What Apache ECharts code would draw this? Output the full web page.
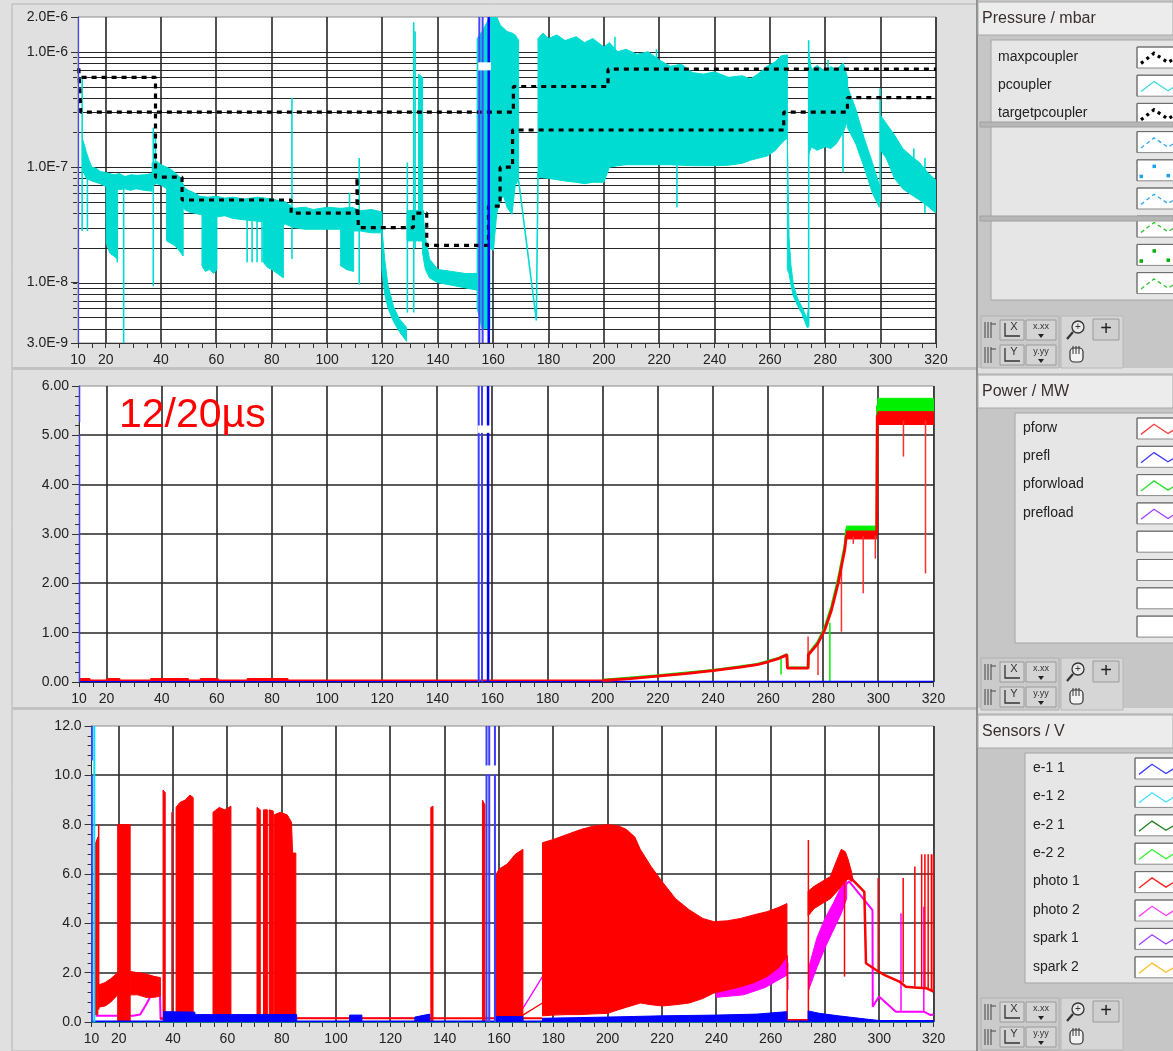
<!DOCTYPE html>
<html>
<head>
<meta charset="utf-8">
<title>Coupler conditioning</title>
<script src="https://cdn.jsdelivr.net/npm/echarts@6/dist/echarts.min.js"></script>
<style>
html, body { margin: 0; padding: 0; background: #e0e0e0; }
#chart { width: 1173px; height: 1051px; }
</style>
</head>
<body>
<div id="chart"></div>
<script>
// ---------------- axis ticks ----------------
const timeTickLabels = [10, 20, 40, 60, 80, 100, 120, 140, 160, 180, 200, 220, 240, 260, 280, 300, 320];
const timeGridLines = [20, 40, 60, 80, 100, 120, 140, 160, 180, 200, 220, 240, 260, 280, 300, 320];
const pressureGridLevels = [4e-9, 5e-9, 6e-9, 7e-9, 8e-9, 9e-9, 1e-8, 2e-8, 3e-8, 4e-8, 5e-8, 6e-8, 7e-8, 8e-8, 9e-8,
  1e-7, 2e-7, 3e-7, 4e-7, 5e-7, 6e-7, 7e-7, 8e-7, 9e-7, 1e-6];
const powerGridLevels = [1, 2, 3, 4, 5];
const sensorGridLevels = [2, 4, 6, 8, 10];

// ---------------- pressure (mbar) ----------------
// noisy pcoupler trace: envelopes as [t, low, high]
const pcouplerBands = [
  [[11.8, 9.5e-8, 1.7e-7], [12.5, 8.5e-8, 1.5e-7], [13, 8e-8, 1.35e-7], [14, 7.8e-8, 1.15e-7], [15, 7.6e-8, 1.0e-7], [16.5, 7.4e-8, 9.8e-8], [18, 7.2e-8, 9.2e-8], [20, 6.8e-8, 9e-8], [23, 6.5e-8, 8.6e-8], [25, 6.4e-8, 8.8e-8], [27, 6.5e-8, 8.3e-8], [29, 6.3e-8, 8.6e-8], [31, 6.5e-8, 8.5e-8], [34, 6.3e-8, 8.6e-8], [36.8, 6.2e-8, 8.8e-8]],
  [[36.8, 7e-8, 1.1e-7], [38.5, 7.2e-8, 1.12e-7], [40, 7e-8, 1.05e-7], [42, 6.5e-8, 1e-7], [43.5, 6.2e-8, 9.6e-8], [45, 6e-8, 9e-8], [47.3, 5e-8, 8e-8], [48.5, 4.3e-8, 6.6e-8], [50, 4.1e-8, 6.3e-8], [52, 4e-8, 6e-8], [54, 3.9e-8, 5.6e-8], [57, 3.8e-8, 5.5e-8], [60, 3.7e-8, 5.6e-8], [63, 3.8e-8, 5.4e-8], [66, 3.6e-8, 5.5e-8], [70, 3.5e-8, 5.3e-8], [75, 3.4e-8, 5.5e-8], [80, 3.3e-8, 5.3e-8], [85, 3.2e-8, 5e-8], [88, 3e-8, 4.4e-8], [92, 2.9e-8, 4.5e-8], [95, 2.9e-8, 4.3e-8], [100, 2.9e-8, 4.5e-8], [105, 2.9e-8, 4.4e-8], [109, 2.8e-8, 4.5e-8], [112, 2.8e-8, 4.2e-8], [116, 2.7e-8, 4.3e-8], [119.8, 2.7e-8, 4.1e-8]],
  [[20.2, 2.2e-8, 7e-8], [21.5, 1.8e-8, 7e-8], [23, 1.7e-8, 7e-8], [24.2, 1.6e-8, 7e-8]],
  [[42, 2.3e-8, 7e-8], [45, 2.1e-8, 7e-8], [46.5, 1.9e-8, 7e-8], [48, 1.7e-8, 6e-8]],
  [[54.8, 1.4e-8, 5e-8], [56, 1.25e-8, 5e-8], [57.5, 1.3e-8, 5e-8], [59, 1.2e-8, 5e-8], [60.2, 1.3e-8, 5e-8]],
  [[77, 1.5e-8, 5e-8], [78.5, 1.35e-8, 5e-8], [80, 1.3e-8, 5e-8], [82, 1.2e-8, 5e-8], [84.2, 1.1e-8, 5e-8]],
  [[104.9, 1.4e-8, 4e-8], [107, 1.3e-8, 4e-8], [109.6, 1.25e-8, 4e-8]],
  [[119.8, 1.3e-8, 3e-8], [120.8, 8e-9, 1.6e-8], [122, 6e-9, 9.5e-9], [124, 4.6e-9, 6.2e-9], [126, 3.8e-9, 4.9e-9], [128.7, 3.1e-9, 4.1e-9]],
  [[128.9, 2.3e-8, 4.2e-8], [132, 2.3e-8, 4.2e-8], [134.9, 2.3e-8, 4.2e-8]],
  [[133, 2.3e-8, 6.4e-7], [134.5, 2.3e-8, 6e-7]],
  [[134.5, 1.8e-8, 4.2e-8], [135.5, 1.3e-8, 2.5e-8], [137, 1.1e-8, 1.6e-8], [140, 1.0e-8, 1.3e-8], [145, 9.5e-9, 1.25e-8], [150, 9e-9, 1.2e-8], [154.2, 8.6e-9, 1.2e-8]],
  [[154.2, 6e-9, 1.3e-6], [156, 4e-9, 1.5e-6], [158.8, 4e-9, 2e-6]],
  [[158.8, 2e-8, 2e-6], [160.1, 1.9e-8, 2e-6], [161.3, 4e-8, 2e-6], [162.6, 5.2e-8, 1.7e-6], [163.8, 5.6e-8, 1.6e-6], [165, 4.5e-8, 1.5e-6], [166.8, 3.9e-8, 1.45e-6], [168, 7e-8, 1.4e-6], [169.2, 7.7e-8, 1.25e-6]],
  [[176.2, 8.2e-8, 1.3e-6], [178, 8.1e-8, 1.45e-6], [180, 8e-8, 1.3e-6], [183, 7.8e-8, 1.4e-6], [186, 7.6e-8, 1.25e-6], [190, 7.4e-8, 1.35e-6], [193, 7.2e-8, 1.2e-6], [196, 7.4e-8, 1.3e-6], [200, 7.4e-8, 1.1e-6], [202, 1e-7, 1.2e-6], [205, 1.03e-7, 1.0e-6], [208, 1.05e-7, 1.05e-6], [212, 1.05e-7, 9.5e-7], [216, 1.05e-7, 1.0e-6], [220, 1.05e-7, 8.5e-7], [224, 1.05e-7, 7.5e-7], [228, 1.04e-7, 7.8e-7], [232, 1.03e-7, 6.6e-7], [236, 1.03e-7, 6.4e-7], [240, 1.03e-7, 6.7e-7], [245, 1.04e-7, 6.0e-7], [250, 1.08e-7, 6.2e-7], [253, 1.15e-7, 5.8e-7], [256, 1.2e-7, 6.5e-7], [259, 1.25e-7, 7.5e-7], [262, 1.4e-7, 8.2e-7], [264, 1.6e-7, 9.2e-7], [266.3, 1.8e-7, 9.4e-7]],
  [[266.3, 1.3e-8, 1.8e-7], [266.9, 1.2e-8, 2.5e-8], [267.6, 9.5e-9, 1.4e-8], [268.5, 7.6e-9, 9.5e-9], [270, 6.3e-9, 7.3e-9], [271.5, 5.4e-9, 6.2e-9], [273.4, 4.1e-9, 4.9e-9], [273.9, 4.1e-9, 6e-9]],
  [[274, 1.3e-7, 1.0e-6], [275, 1.5e-7, 7e-7], [277, 1.4e-7, 7.6e-7], [280, 1.5e-7, 6.8e-7], [282, 1.45e-7, 7.4e-7], [284, 1.6e-7, 7e-7], [286.5, 2e-7, 8e-7], [288, 2.5e-7, 6e-7]],
  [[288, 2.2e-7, 5e-7], [291, 1.6e-7, 3.2e-7], [294, 1e-7, 1.8e-7], [297, 6e-8, 1.1e-7], [299.5, 4.5e-8, 7e-8]],
  [[300, 1.4e-7, 2.8e-7], [302, 1.2e-7, 2.4e-7], [305, 8e-8, 1.9e-7], [308, 6.5e-8, 1.45e-7], [311, 5.8e-8, 1.25e-7], [314, 5.2e-8, 1.1e-7], [317, 4.6e-8, 9e-8], [320, 4e-8, 7.7e-8]]
];
const pcouplerSpikes = [[11.5, 2.8e-8, 6.2e-7], [13.4, 2.8e-8, 8e-8], [24.2, 1.5e-8, 6e-8], [26.5, 3e-9, 7e-8],
  [37.2, 9.3e-9, 2.2e-7], [38, 8e-8, 1.8e-7], [71.1, 1.5e-8, 4e-8], [72.9, 1.5e-8, 4e-8], [74.7, 1.5e-8, 4e-8],
  [76.5, 1.5e-8, 4e-8], [87.3, 1.6e-8, 4e-7], [108.1, 3e-8, 6e-8], [111.6, 9.6e-9, 1.2e-7], [129, 5.5e-9, 1.1e-7],
  [131.3, 5.5e-9, 1.8e-6], [131.8, 2e-8, 1.5e-6], [226.4, 4.5e-8, 1.1e-7], [274, 4.2e-9, 1.26e-6],
  [286.4, 9e-8, 2e-7], [299.8, 5e-8, 4.8e-7], [204, 6e-7, 1.35e-6], [219, 7e-7, 1.05e-6], [281, 5e-7, 8.5e-7],
  [312, 8e-8, 1.45e-7], [316, 4e-8, 1.2e-7]];
const pcouplerRamp = [[169.2, 7.7e-8], [175.6, 4.7e-9], [176.2, 9e-8]];
const maxpcoupler = [[10.3, 7.2e-7], [11, 7.2e-7], [11, 3e-7], [167.3, 3e-7], [167.3, 5e-7], [201.5, 5e-7],
  [201.5, 7.07e-7], [320, 7.07e-7]];
const targetpcoupler = [[11.3, 6e-7], [38, 6e-7], [38, 8.2e-8], [47.6, 8.2e-8], [47.6, 5.2e-8], [87, 5.2e-8],
  [87, 4e-8], [110.8, 4e-8], [110.8, 8.2e-8], [111.3, 8.2e-8], [111.3, 3e-8], [131.2, 3e-8], [131.2, 4e-8],
  [136, 4e-8], [136, 2.1e-8], [158.3, 2.1e-8], [158.3, 4.6e-8], [162.5, 4.6e-8], [162.5, 1e-7], [167, 1e-7],
  [167, 2.1e-7], [265, 2.1e-7], [265, 3e-7], [288, 3e-7], [288, 4e-7], [320, 4e-7]];
const pressureMarkers = [[10.05, 3e-9, 2e-6], [155, 3e-9, 2e-6], [156.2, 3e-9, 2e-6]];
const pressureMarkerMain = [[158.4, 3e-9, 2e-6]];
const pressureGaps = [[154.6, 6.9e-7, 159.2, 8.1e-7]];

// ---------------- power (MW) ----------------
const pforwLow = [[10, 0.035], [200, 0.035]];
const pforwLowBands = [
  [[10.4, 0.005, 0.07], [14, 0.005, 0.07]], [[20, 0.005, 0.07], [24.8, 0.005, 0.07]],
  [[36, 0.005, 0.07], [49.7, 0.005, 0.07]], [[54, 0.005, 0.07], [60.5, 0.005, 0.07]],
  [[71, 0.005, 0.07], [85.8, 0.005, 0.07]]
];
const pforw = [[200, 0.03], [210, 0.07], [220, 0.12], [230, 0.17], [240, 0.23], [250, 0.3], [256, 0.35], [260, 0.41],
  [264, 0.48], [266.8, 0.55], [267, 0.28], [274.5, 0.28], [274.6, 0.55], [278, 0.78], [280.5, 1.05], [283, 1.46],
  [285.4, 2.0], [287.8, 2.68], [288.4, 2.97], [299.4, 3.0], [299.6, 5.4], [320, 5.4]];
const pforwBands = [[[288.4, 2.9, 3.06], [299.4, 2.9, 3.06]], [[299.8, 5.22, 5.48], [320, 5.22, 5.48]]];
const pforwSpikes = [[309.1, 4.57, 5.3], [317.1, 2.2, 5.3], [294.5, 1.8, 3], [290.9, 2.8, 3], [298.9, 2.5, 3],
  [286.6, 1.02, 2.4], [278.1, 0.14, 0.8], [274.5, 0.28, 0.92], [299.5, 3, 5.4]];
const pforwload = [[200, 0.04], [220, 0.13], [240, 0.24], [256, 0.36], [264, 0.49], [266.8, 0.56], [267, 0.29],
  [274.5, 0.29], [274.6, 0.57], [278, 0.81], [280.5, 1.1], [283, 1.53], [285.4, 2.08], [287.8, 2.76], [288.4, 3.1],
  [299.4, 3.1], [299.6, 5.6], [320, 5.6]];
const pforwloadBands = [[[288.4, 3.03, 3.16], [299.4, 3.03, 3.16]], [[299.8, 5.46, 5.75], [320, 5.46, 5.75]]];
const pforwloadSpikes = [[282.4, 0, 1.2], [264.7, 0.15, 0.47], [299.6, 4.6, 5.6]];
const prefl = [[10, 0.01], [320, 0.01]];
const powerMarkers = [[10.1, 0, 5.02], [10.1, 5.27, 6], [155, 0, 6], [156.2, 0, 6]];
const powerMarkerMain = [[158.4, 0, 6]];
const powerGaps = [[154.6, 5.05, 159.2, 5.2]];

// ---------------- sensors (V) ----------------
const photo1Bands = [
  [[11.3, 0.3, 7.2], [12.3, 0.3, 7.5]],
  [[12.6, 0.6, 1.5], [15, 0.65, 1.6], [17, 0.8, 1.75], [19.6, 1.1, 2.0]],
  [[19.6, 0, 8.0], [24.2, 0, 8.0]],
  [[24.2, 1.1, 2.05], [27, 1.1, 2.0], [30, 1.0, 1.95], [33, 1.0, 1.85], [35.3, 1.05, 1.8]],
  [[36.3, 0, 9.4], [37.1, 0, 9.3]],
  [[41.1, 0, 8.7], [42.5, 0, 8.9], [44.5, 0, 9.0], [46.2, 0, 9.2], [47.4, 0, 9.1]],
  [[54.7, 0, 8.5], [57, 0, 8.7], [59, 0, 8.6], [61.3, 0, 8.75]],
  [[70.9, 0, 8.7], [72.1, 0, 8.6]],
  [[73.3, 0, 8.6], [74.7, 0, 8.6]],
  [[75.4, 0, 8.6], [76.9, 0, 8.55]],
  [[77.2, 0, 8.4], [79.5, 0, 8.5], [82, 0, 8.4], [83.6, 0, 8.1], [84.0, 0, 6.85], [85.2, 0, 6.85]],
  [[134.9, 0, 8.7], [135.7, 0, 8.75]],
  [[153.9, 0, 9.0], [154.8, 0, 8.8]],
  [[158.6, 0, 5.9], [160, 0, 6.2], [163, 0, 6.4], [166, 0, 6.8], [168.8, 0, 7.0]],
  [[176, 0.25, 7.27], [180, 0.28, 7.4], [185, 0.3, 7.6], [190, 0.3, 7.8], [195, 0.33, 7.95], [200, 0.35, 8.0],
   [204, 0.5, 7.95], [207, 0.6, 7.8], [210, 0.7, 7.5], [212, 0.77, 7.0], [216, 0.7, 6.3], [220, 0.65, 5.7],
   [225, 0.7, 5.0], [230, 0.77, 4.55], [235, 0.95, 4.2], [239, 1.17, 4.07], [244, 1.3, 4.1], [249, 1.43, 4.2],
   [254, 1.6, 4.35], [258.6, 1.84, 4.47], [263, 2.2, 4.65], [266, 2.65, 4.8]],
  [[273.8, 4.3, 5.3], [276, 4.6, 5.5], [279, 4.8, 5.7], [282, 5.0, 5.9], [284.5, 5.3, 6.6], [286, 5.5, 7.0],
   [287.5, 5.7, 6.9], [288.5, 5.8, 6.6], [290, 5.7, 6.0]]
];
const photo1Low = [[35.3, 0.15], [176, 0.15]];
const photo1Ramp = [[168.8, 0.28], [176, 0.77]];
const photo1Low2 = [[266, 0.08], [273.8, 0.08]];
const photo1Tail = [[288, 6.3], [290.2, 5.76], [294.5, 5.28], [295.1, 2.38], [298.8, 2.11], [302, 1.9], [307.4, 1.64],
  [309.8, 1.43], [313, 1.4], [317.2, 1.37], [320, 1.23]];
const photo1Spikes = [[12.6, 0.5, 8.0], [39.6, 0.1, 8.5], [266.1, 0.08, 2.7], [273.9, 0.05, 7.38], [287.2, 1.84, 6.6],
  [299.6, 2.05, 5.84], [308.8, 1.6, 5.84], [313.1, 1.4, 6.3], [315.6, 1.35, 6.8], [316.8, 1.35, 6.8],
  [318, 1.3, 6.8], [319.2, 1.25, 6.8], [319.9, 1.23, 6.8]];
const photo2Start = [[11.5, 0.25], [25.3, 0.25], [27.9, 0.3], [30.4, 0.77], [32.9, 1.3], [34.1, 1.7], [35, 1.8],
  [35.4, 0.12], [40, 0.12]];
const photo2Low = [[86, 0.15], [128, 0.15]];
const photo2Ramp = [[168.8, 0.55], [176, 1.84]];
const photo2Tail = [[288, 5.6], [288.9, 5.7], [297.5, 4.54], [297.6, 0.62], [299.9, 1.03], [306.1, 0.42],
  [316.4, 0.42], [318.9, 0.28], [320, 0.3]];
const photo2Bands = [
  [[240, 1.0, 1.3], [250, 1.1, 1.5], [258, 1.4, 1.9], [266, 1.9, 2.7]],
  [[274, 1.3, 2.2], [277, 2.2, 3.4], [280, 3.0, 4.2], [283, 3.7, 4.8], [286, 4.4, 5.5], [288, 5.0, 5.7]]
];
const photo2Spikes = [[266.3, 1.3, 2.4], [308, 0.42, 4.41], [316.4, 0.42, 4.67]];
const e11Bands = [
  [[36.5, 0, 0.42], [48, 0, 0.4], [48.1, 0, 0.3], [85.5, 0, 0.3]],
  [[105, 0, 0.28], [109.5, 0, 0.28]],
  [[129, 0, 0.2], [134.5, 0, 0.32]],
  [[159, 0, 0.22], [168.8, 0, 0.22]],
  [[176, 0, 0.15], [200, 0, 0.2], [220, 0, 0.25], [240, 0, 0.28], [255, 0, 0.32], [266, 0, 0.42]],
  [[273.8, 0, 0.45], [278, 0, 0.35], [285, 0, 0.25], [295, 0, 0.12], [300, 0, 0.06], [320, 0, 0.06]]
];
const e11Line = [[10, 0.03], [320, 0.03]];
const e12Line = [[10, 0.01], [320, 0.01]];
const sensorMarkers = [[10.1, 0, 10.0], [10.1, 10.6, 12], [155.4, 0, 12], [156.4, 0, 12], [158.5, 0, 12]];
const sensorMarkersCyan = [[11, 0, 12]];
const sensorGaps = [[154.8, 10.05, 159.3, 10.4]];

// ---------------- legends ----------------
const pressureLegend = ['maxpcoupler', 'pcoupler', 'targetpcoupler'];
const powerLegend = ['pforw', 'prefl', 'pforwload', 'prefload'];
const sensorLegend = ['e-1 1', 'e-1 2', 'e-2 1', 'e-2 2', 'photo 1', 'photo 2', 'spark 1', 'spark 2'];

// =================================================================
const FONT = '"Liberation Sans", Arial, Helvetica, sans-serif';
const CYAN = '#00dcd2', RED = '#ff0000', GREEN = '#00f000', BLUE = '#0000ff', MAGENTA = '#ff00ff';
const Y_EXT = [[3e-9, 2e-6], [0, 6], [0, 12]];

function bandSeries(g, bands, color, z) {
  return {
    type: 'custom', xAxisIndex: g, yAxisIndex: g, z: z, silent: true, clip: true, animation: false,
    data: bands.map((b, i) => [b[0][0], b[0][1], i]),
    renderItem: (params, api) => {
      const b = bands[params.dataIndex];
      const upper = b.map(p => api.coord([p[0], p[2]]));
      const lower = b.map(p => api.coord([p[0], p[1]])).reverse();
      return { type: 'polygon', shape: { points: upper.concat(lower) },
        style: { fill: color, stroke: color, lineWidth: 1 } };
    }
  };
}
function segSeries(g, segs, color, width, z) {
  return {
    type: 'custom', xAxisIndex: g, yAxisIndex: g, z: z, silent: true, clip: true, animation: false,
    data: segs,
    renderItem: (params, api) => {
      const a = api.coord([api.value(0), api.value(1)]);
      const b = api.coord([api.value(0), api.value(2)]);
      return { type: 'line', shape: { x1: a[0], y1: a[1], x2: b[0], y2: b[1] },
        style: { stroke: color, lineWidth: width } };
    }
  };
}
function boxSeries(g, boxes, color, z) {
  return {
    type: 'custom', xAxisIndex: g, yAxisIndex: g, z: z, silent: true, clip: true, animation: false,
    data: boxes,
    renderItem: (params, api) => {
      const a = api.coord([api.value(0), api.value(1)]);
      const b = api.coord([api.value(2), api.value(3)]);
      return { type: 'rect', shape: { x: Math.min(a[0], b[0]), y: Math.min(a[1], b[1]),
        width: Math.abs(b[0] - a[0]), height: Math.abs(b[1] - a[1]) }, style: { fill: color } };
    }
  };
}
function lineSeries(g, pts, color, width, z, dash) {
  return {
    type: 'line', xAxisIndex: g, yAxisIndex: g, data: pts, symbol: 'none', z: z, silent: true, clip: true,
    animation: false, lineStyle: { color: color, width: width, type: dash || 'solid', cap: 'butt' }
  };
}
// grid lines drawn in data space, snapped to whole pixels
function vGrid(g) {
  return {
    type: 'custom', xAxisIndex: g, yAxisIndex: g, z: 1, silent: true, clip: false, animation: false,
    data: timeGridLines.map(t => [t, Y_EXT[g][0], Y_EXT[g][1]]),
    renderItem: (params, api) => {
      const a = api.coord([api.value(0), api.value(1)]);
      const b = api.coord([api.value(0), api.value(2)]);
      const x = Math.round(a[0]);
      return { type: 'line', shape: { x1: x, y1: a[1], x2: x, y2: b[1] }, style: { stroke: '#262626', lineWidth: 1.6 } };
    }
  };
}
function hGrid(g, levels, width, tick) {
  return {
    type: 'custom', xAxisIndex: g, yAxisIndex: g, z: 1, silent: true, clip: false, animation: false,
    data: levels.map(v => [10, v, 320]),
    renderItem: (params, api) => {
      const a = api.coord([api.value(0), api.value(1)]);
      const b = api.coord([api.value(2), api.value(1)]);
      const y = Math.round(a[1]) + (width < 1.5 ? 0.5 : 0);
      const children = [{ type: 'line', shape: { x1: a[0], y1: y, x2: b[0], y2: y }, style: { stroke: '#262626', lineWidth: width } }];
      if (tick) children.push({ type: 'line', shape: { x1: a[0] - 5, y1: y, x2: a[0] - 1, y2: y }, style: { stroke: '#333', lineWidth: 1 } });
      return { type: 'group', children: children };
    }
  };
}

function xAxis(g) {
  return {
    type: 'value', gridIndex: g, min: 10, max: 320, interval: 5,
    axisLine: { show: true, onZero: false, lineStyle: { color: '#333', width: 1 } },
    axisTick: { show: true, length: 5, lineStyle: { color: '#333' } },
    axisLabel: { show: true, fontSize: 14, color: '#222', fontFamily: FONT, margin: 10,
      showMinLabel: true, showMaxLabel: true, hideOverlap: false,
      formatter: v => timeTickLabels.includes(v) ? String(v) : '' },
    splitLine: { show: false }
  };
}
const yCommon = {
  axisLine: { show: true, onZero: false, lineStyle: { color: '#333', width: 1 } },
  axisTick: { show: true, length: 7, lineStyle: { color: '#333' } },
  splitLine: { show: false }
};
const labelCommon = { fontSize: 14, color: '#222', fontFamily: FONT, margin: 10, showMinLabel: true, showMaxLabel: true, hideOverlap: false };

const series = [
  // pressure panel
  vGrid(0), hGrid(0, pressureGridLevels, 1, true),
  bandSeries(0, pcouplerBands, CYAN, 3),
  segSeries(0, pcouplerSpikes, CYAN, 1.6, 3),
  lineSeries(0, pcouplerRamp, CYAN, 1.6, 3),
  lineSeries(0, maxpcoupler, '#000', 3.2, 5, [5, 5]),
  lineSeries(0, targetpcoupler, '#000', 3.2, 5, [5, 5]),
  segSeries(0, pressureMarkers, '#4646ff', 2, 6),
  segSeries(0, pressureMarkerMain, BLUE, 2.5, 6),
  boxSeries(0, pressureGaps, '#ffffff', 7),
  // power panel
  vGrid(1), hGrid(1, powerGridLevels, 1.6, false),
  lineSeries(1, prefl, BLUE, 1.5, 3),
  bandSeries(1, pforwLowBands, RED, 3),
  lineSeries(1, pforwLow, RED, 1.5, 3),
  bandSeries(1, pforwloadBands, GREEN, 3),
  lineSeries(1, pforwload, GREEN, 2.5, 3),
  segSeries(1, pforwloadSpikes, GREEN, 1.5, 3),
  bandSeries(1, pforwBands, RED, 4),
  lineSeries(1, pforw, RED, 2.8, 4),
  segSeries(1, pforwSpikes, '#ff3030', 1.5, 4),
  segSeries(1, powerMarkers, '#3c3cff', 2, 6),
  segSeries(1, powerMarkerMain, BLUE, 2.5, 6),
  boxSeries(1, powerGaps, '#ffffff', 7),
  // sensors panel
  vGrid(2), hGrid(2, sensorGridLevels, 1.6, false),
  lineSeries(2, e12Line, '#00e0ff', 1.5, 3),
  bandSeries(2, photo2Bands, MAGENTA, 3),
  lineSeries(2, photo2Start, MAGENTA, 2, 3),
  lineSeries(2, photo2Low, MAGENTA, 1.5, 3),
  lineSeries(2, photo2Ramp, MAGENTA, 1.3, 3),
  lineSeries(2, photo2Tail, MAGENTA, 2, 3),
  segSeries(2, photo2Spikes, MAGENTA, 1.5, 3),
  bandSeries(2, photo1Bands, RED, 4),
  lineSeries(2, photo1Low, RED, 2, 4),
  lineSeries(2, photo1Ramp, RED, 1.3, 4),
  lineSeries(2, photo1Low2, RED, 2, 4),
  lineSeries(2, photo1Tail, RED, 2.5, 4),
  segSeries(2, photo1Spikes, RED, 1.5, 4),
  bandSeries(2, e11Bands, BLUE, 5),
  lineSeries(2, e11Line, BLUE, 1.5, 5),
  segSeries(2, sensorMarkers, '#3c3cff', 2, 6),
  segSeries(2, sensorMarkersCyan, '#00e0ff', 2, 6),
  boxSeries(2, sensorGaps, '#ffffff', 7)
];

// ---------------- side panels ----------------
const G = [];
function rect(x, y, w, h, fill, stroke, z) {
  G.push({ type: 'rect', shape: { x: x, y: y, width: w, height: h }, style: { fill: fill, stroke: stroke || null, lineWidth: 1 }, z: z || 50 });
}
function text(x, y, s, size, color, align, z) {
  G.push({ type: 'text', x: x, y: y, style: { text: s, font: size + 'px ' + FONT, fill: color, align: align || 'left', verticalAlign: 'middle' }, z: z || 60 });
}
function pline(pts, color, width, dash, z) {
  G.push({ type: 'polyline', shape: { points: pts }, style: { stroke: color, lineWidth: width, lineDash: dash || null, fill: null }, z: z || 60 });
}
function swatch(x, y, st) {
  const w = 48, h = 21;
  rect(x, y, w, h, '#ffffff', '#8a8a8a', 55);
  pline([[x, y + h], [x, y], [x + w, y]], '#6a6a6a', 1, null, 56);
  if (!st) return;
  const pts = [[x + 4, y + h * 0.78], [x + 17, y + h * 0.3], [x + 31, y + h * 0.74], [x + 45, y + h * 0.32]];
  if (st.dots) {
    pts.slice(0, 3).forEach(p => rect(p[0] - 1.5, p[1] - 1.5, 3.5, 3.5, st.color, null, 57));
  } else {
    pline(pts, st.color, st.width || 1.3, st.dash, 57);
  }
}
function toolbar(y) {
  rect(981, y, 78, 52, '#cbcbcb', '#b0b0b0', 51);
  rect(1061, y, 62, 52, '#d6d6d6', '#b8b8b8', 51);
  for (let r = 0; r < 2; r++) {
    const ry = y + 4 + r * 25;
    [985, 988, 991].forEach(x => pline([[x, ry + 2], [x, ry + 18]], '#444', 1));
    pline([[991, ry + 4], [996, ry + 4]], '#444', 1);
    rect(1000, ry, 24, 20, '#d4d4d4', '#9a9a9a', 52);
    pline([[1005, ry + 3], [1005, ry + 16], [1020, ry + 16]], '#333', 1.3);
    text(1014, ry + 7, r ? 'Y' : 'X', 11, '#333', 'center');
    rect(1026, ry, 30, 20, '#d4d4d4', '#9a9a9a', 52);
    text(1041, ry + 7, r ? 'y.yy' : 'x.xx', 9, '#333', 'center');
    G.push({ type: 'polygon', shape: { points: [[1038, ry + 14], [1044, ry + 14], [1041, ry + 18]] }, style: { fill: '#222' }, z: 60 });
  }
  // magnifier
  G.push({ type: 'circle', shape: { cx: 1078, cy: y + 11, r: 6 }, style: { fill: '#e8e8e8', stroke: '#333', lineWidth: 1.3 }, z: 60 });
  pline([[1073, y + 16], [1067, y + 23]], '#333', 2.2);
  text(1078, y + 11, '+', 10, '#333', 'center');
  rect(1093, y + 3, 26, 21, '#cfcfcf', '#999', 52);
  text(1106, y + 13, '+', 20, '#222', 'center');
  // hand
  G.push({ type: 'rect', shape: { x: 1070, y: y + 32, width: 13, height: 14, r: 4 }, style: { fill: '#f2f2f2', stroke: '#333', lineWidth: 1.2 }, z: 60 });
  [1073, 1076, 1079].forEach(x => pline([[x, y + 30], [x, y + 38]], '#333', 1));
}
function sidePanel(cfg) {
  rect(978, cfg.top, 195, cfg.bottom - cfg.top, '#c6c6c6', null, 49);
  rect(978, cfg.top + 2, 195, 33, '#ececec', '#a8a8a8', 50);
  text(982, cfg.top + 19, cfg.title, 16, '#3a2f2f');
  rect(cfg.innerX, cfg.top + 40, 1173 - cfg.innerX + 2, cfg.innerH, '#e6e6e6', '#a4a4a4', 50);
  for (let i = 0; i < cfg.rows; i++) {
    const cy = cfg.top + cfg.row0 + i * cfg.step;
    if (cfg.names[i]) text(cfg.textX, cy, cfg.names[i], 14, '#222');
    swatch(cfg.swX, cy - 10, cfg.styles[i]);
  }
  (cfg.separators || []).forEach(sy => {
    rect(980, cfg.top + sy, 193, 5, '#b6b6b6', '#a0a0a0', 58);
  });
  toolbar(cfg.top + cfg.toolbarY);
}

// frame of the plotting column
rect(12, 4, 965, 1047, null, '#b4b4b4', 40);
rect(12, 367, 965, 3, '#c2c2c2', null, 41);
rect(12, 707, 965, 3, '#c2c2c2', null, 41);
pline([[977, 0], [977, 1051]], '#7a7a7a', 1.5, null, 45);

sidePanel({
  title: 'Pressure / mbar', top: 0, bottom: 368, innerX: 991, innerH: 260, rows: 9, row0: 57, step: 28.2,
  textX: 998, swX: 1137, names: pressureLegend, separators: [122, 216], toolbarY: 316,
  styles: [
    { color: '#000', width: 3.2, dash: [3, 4] }, { color: '#40d8e0', width: 1.3 }, { color: '#000', width: 3.2, dash: [3, 4] },
    { color: '#30a8f0', dash: [4, 3] }, { color: '#20a0f0', dots: true }, { color: '#30a8f0', dash: [4, 3] },
    { color: '#30c030', dash: [4, 3] }, { color: '#00b000', dots: true }, { color: '#30c030', dash: [4, 3] }
  ]
});
sidePanel({
  title: 'Power / MW', top: 373, bottom: 708, innerX: 1015, innerH: 230, rows: 8, row0: 55, step: 28.3,
  textX: 1023, swX: 1137, names: powerLegend, toolbarY: 285,
  styles: [{ color: '#ff3c3c' }, { color: '#3c3cff' }, { color: '#30e030' }, { color: '#a040ff' }, null, null, null, null]
});
sidePanel({
  title: 'Sensors / V', top: 713, bottom: 1051, innerX: 1025, innerH: 230, rows: 8, row0: 55, step: 28.4,
  textX: 1033, swX: 1135, names: sensorLegend, toolbarY: 285,
  styles: [{ color: '#3c3cff' }, { color: '#40e0ff' }, { color: '#208020' }, { color: '#30f030' },
    { color: '#ff2020' }, { color: '#ff40ff' }, { color: '#a040ff' }, { color: '#ffc020' }]
});
// run label inside the power panel
text(119, 416, '12/20\u00b5s', 41, '#ff0000', 'left', 100);

const option = {
  animation: false,
  backgroundColor: '#e0e0e0',
  grid: [
    { left: 78, top: 17, width: 858, height: 326, show: true, backgroundColor: '#ffffff', borderColor: '#8c8c8c', borderWidth: 1, containLabel: false, outerBoundsMode: 'none' },
    { left: 79, top: 386, width: 854.5, height: 296, show: true, backgroundColor: '#ffffff', borderColor: '#8c8c8c', borderWidth: 1, containLabel: false, outerBoundsMode: 'none' },
    { left: 91.6, top: 726, width: 842, height: 296, show: true, backgroundColor: '#ffffff', borderColor: '#8c8c8c', borderWidth: 1, containLabel: false, outerBoundsMode: 'none' }
  ],
  xAxis: [xAxis(0), xAxis(1), xAxis(2)],
  yAxis: [
    Object.assign({ type: 'log', gridIndex: 0, logBase: 10, min: 3e-9, max: 2e-6,
      axisLabel: Object.assign({ formatter: v => Number(v).toExponential(1).toUpperCase() }, labelCommon) }, yCommon),
    Object.assign({ type: 'value', gridIndex: 1, min: 0, max: 6, interval: 1,
      minorTick: { show: true, splitNumber: 5, length: 4, lineStyle: { color: '#333' } },
      axisLabel: Object.assign({ formatter: v => v.toFixed(2) }, labelCommon) }, yCommon),
    Object.assign({ type: 'value', gridIndex: 2, min: 0, max: 12, interval: 2,
      minorTick: { show: true, splitNumber: 5, length: 4, lineStyle: { color: '#333' } },
      axisLabel: Object.assign({ formatter: v => v.toFixed(1) }, labelCommon) }, yCommon)
  ],
  series: series,
  graphic: { elements: G }
};

const chart = echarts.init(document.getElementById('chart'), null, { renderer: 'canvas', width: 1173, height: 1051 });
chart.setOption(option);
</script>
</body>
</html>
